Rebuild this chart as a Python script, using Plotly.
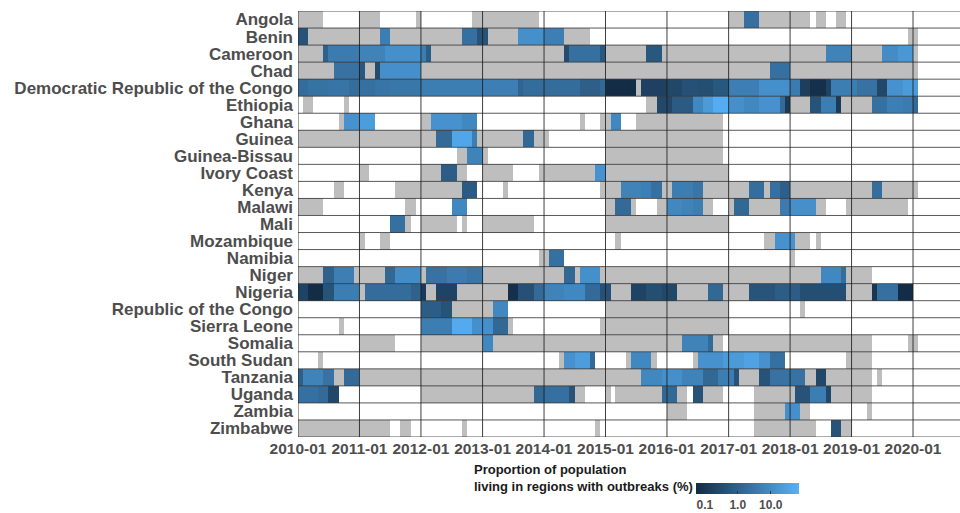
import numpy as np
import pandas as pd
import plotly.graph_objects as go

# ---------------- data ----------------
COUNTRIES = ["Angola", "Benin", "Cameroon", "Chad", "Democratic Republic of the Congo",
             "Ethiopia", "Ghana", "Guinea", "Guinea-Bissau", "Ivory Coast", "Kenya",
             "Malawi", "Mali", "Mozambique", "Namibia", "Niger", "Nigeria",
             "Republic of the Congo", "Sierra Leone", "Somalia", "South Sudan",
             "Tanzania", "Uganda", "Zambia", "Zimbabwe"]

START_MONTH = "2010-01-01"
N_MONTHS = 121
YEAR_TICKS = ["2010-01", "2011-01", "2012-01", "2013-01", "2014-01", "2015-01",
              "2016-01", "2017-01", "2018-01", "2019-01", "2020-01"]
CBAR_TICKS = [0.1, 1.0, 10.0]
CBAR_LABELS = ["0.1", "1.0", "10.0"]
LEGEND_TITLE = ["Proportion of population", "living in regions with outbreaks (%)"]

# segments: (first month, last month, proportion %), months counted from 2010-01 (=0)
# proportion 0 = reporting but no outbreak (grey); months not listed = no data (white)
ANGOLA = [(0, 4, 0), (12, 15, 0), (23, 23, 0), (34, 46, 0), (84, 86, 0), (87, 89, 2.2),
          (90, 99, 0), (101, 102, 0), (105, 106, 0)]
BENIN = [(0, 1, 0.45), (2, 15, 0), (16, 17, 4.5), (18, 31, 0), (32, 34, 2.2), (35, 36, 0.45),
         (37, 42, 0), (43, 47, 12), (48, 51, 5), (52, 56, 0), (119, 120, 0)]
CAMEROON = [(0, 4, 0), (5, 5, 1.0), (6, 11, 4), (12, 16, 6), (17, 23, 12), (24, 24, 4.5),
            (25, 25, 0.8), (26, 51, 0), (52, 52, 0.3), (53, 58, 2.2), (59, 59, 0.6),
            (60, 67, 0), (68, 70, 0.6), (71, 102, 0), (103, 107, 6), (108, 113, 0),
            (114, 116, 10), (117, 119, 18), (120, 120, 0)]
CHAD = [(0, 6, 0), (7, 11, 2.5), (12, 12, 0.6), (13, 14, 0), (15, 15, 0.3), (16, 23, 12),
        (24, 91, 0), (92, 95, 2.2), (96, 120, 0)]
DRC = [(0, 1, 1.8), (2, 5, 2.4), (6, 9, 2.8), (10, 11, 2.0), (12, 14, 2.2), (15, 17, 2.8),
       (18, 23, 3.2), (24, 35, 4.5), (36, 42, 5), (43, 43, 1.2), (44, 54, 1.8),
       (55, 58, 0.9), (59, 59, 1.4), (60, 65, 0.06), (66, 66, 0), (67, 71, 0.18),
       (72, 74, 0.25), (75, 77, 0.4), (78, 80, 0.35), (81, 83, 0.6), (84, 89, 5),
       (90, 95, 12), (96, 97, 4), (98, 99, 0.15), (100, 102, 0.07), (103, 103, 0.2),
       (104, 108, 4.5), (109, 112, 2.5), (113, 114, 0.25), (115, 117, 14), (118, 120, 22)]
ETHIOPIA = [(1, 2, 0), (9, 9, 0), (68, 69, 0), (70, 72, 0.25), (73, 76, 0.7), (77, 78, 8),
            (79, 80, 22), (81, 83, 60), (84, 86, 12), (87, 89, 8), (90, 93, 14),
            (94, 94, 1.6), (95, 95, 0.12), (96, 99, 0), (100, 101, 0.45), (102, 104, 4.5),
            (105, 105, 0.12), (106, 111, 0), (112, 114, 2.2), (115, 117, 5), (118, 119, 4),
            (120, 120, 1.6)]
GHANA = [(8, 8, 0), (9, 11, 14), (12, 14, 25), (24, 25, 0), (26, 31, 14), (32, 34, 8),
         (55, 55, 0), (59, 60, 0), (61, 62, 8), (66, 82, 0)]
GUINEA = [(0, 26, 0), (27, 29, 1.6), (30, 33, 40), (34, 34, 4.5), (35, 43, 0), (44, 45, 1.4),
          (46, 48, 0), (60, 82, 0)]
GUINEA_BISSAU = [(31, 32, 0), (33, 35, 6), (36, 36, 0), (60, 82, 0)]
IVORY_COAST = [(12, 13, 0), (24, 27, 0), (28, 30, 0.8), (31, 32, 0), (36, 41, 0),
               (47, 57, 0), (58, 59, 14), (60, 83, 0)]
KENYA = [(7, 8, 0), (19, 31, 0), (32, 34, 0.7), (40, 40, 0), (59, 62, 0), (63, 66, 6),
         (67, 68, 5), (69, 70, 2.2), (71, 72, 0), (73, 76, 4.5), (77, 78, 3), (79, 87, 0),
         (88, 90, 2), (91, 91, 0), (92, 93, 2.2), (94, 95, 0.9), (96, 111, 0),
         (112, 113, 2), (114, 120, 0)]
MALAWI = [(0, 4, 0), (21, 22, 0), (30, 32, 8), (60, 61, 0), (62, 64, 1.6), (65, 65, 0),
          (70, 71, 0), (72, 74, 8), (75, 76, 6), (77, 78, 4.5), (79, 80, 0), (84, 84, 0),
          (85, 87, 1.4), (88, 93, 0), (94, 95, 4), (96, 100, 12), (101, 102, 0),
          (107, 118, 0)]
MALI = [(18, 20, 2.2), (21, 21, 0), (24, 30, 0), (32, 32, 0), (36, 45, 0), (60, 83, 0)]
MOZAMBIQUE = [(12, 12, 0), (16, 17, 0), (62, 62, 0), (91, 92, 0), (93, 96, 14),
              (97, 99, 0), (101, 101, 0)]
NAMIBIA = [(47, 48, 0), (49, 51, 2.2), (96, 96, 0)]
NIGER = [(0, 4, 0), (5, 6, 1.0), (7, 10, 5), (11, 16, 0), (17, 18, 1.4), (19, 23, 10),
         (24, 24, 0), (25, 28, 2.5), (29, 32, 4), (33, 35, 3), (36, 51, 0), (52, 53, 1.4),
         (54, 54, 0), (55, 58, 12), (59, 101, 0), (102, 105, 8), (106, 106, 2), (107, 111, 0)]
NIGERIA = [(0, 1, 0.2), (2, 4, 0.06), (5, 6, 0.45), (7, 11, 4.5), (12, 12, 0), (13, 21, 1.8),
           (22, 23, 1.0), (24, 24, 0.12), (25, 26, 0), (27, 30, 0.2), (31, 40, 0),
           (41, 42, 0.07), (43, 45, 0.4), (46, 47, 1.6), (48, 51, 6), (52, 55, 8),
           (56, 58, 1.6), (59, 60, 0.4), (61, 64, 0), (65, 67, 0.2), (68, 70, 0.35),
           (71, 73, 0.25), (74, 79, 0), (80, 82, 1.4), (83, 87, 0), (88, 92, 0.5),
           (93, 97, 0.8), (98, 106, 0.35), (107, 111, 0), (112, 112, 0.1), (113, 116, 2.2),
           (117, 119, 0.06)]
REP_CONGO = [(24, 27, 0.8), (28, 29, 0.45), (30, 37, 0), (38, 40, 8), (60, 83, 0), (98, 98, 0)]
SIERRA_LEONE = [(8, 8, 0), (24, 29, 4.5), (30, 33, 50), (34, 37, 12), (38, 40, 1.4),
                (41, 41, 0), (59, 83, 0)]
SOMALIA = [(12, 18, 0), (24, 35, 0), (36, 37, 8), (38, 74, 0), (75, 79, 6), (80, 80, 1.6),
           (81, 82, 0), (84, 111, 0), (119, 120, 0)]
SOUTH_SUDAN = [(4, 4, 0), (51, 51, 0), (52, 53, 14), (54, 56, 25), (57, 57, 1.6), (64, 64, 0),
               (65, 68, 8), (69, 69, 0), (77, 77, 0), (78, 82, 14), (83, 86, 22),
               (87, 89, 35), (90, 91, 14), (92, 94, 2.2), (107, 111, 0)]
TANZANIA = [(0, 0, 0.9), (1, 4, 6), (5, 6, 2.5), (7, 8, 0), (9, 11, 1.6), (12, 66, 0),
            (67, 70, 8), (71, 74, 12), (75, 78, 6), (79, 81, 1.4), (82, 84, 4.5),
            (85, 85, 0.5), (86, 89, 0), (90, 91, 0.45), (92, 98, 2.5), (99, 100, 0),
            (101, 102, 0.25), (103, 111, 0), (113, 113, 0)]
UGANDA = [(0, 3, 2.2), (4, 5, 1.6), (6, 7, 0.25), (24, 45, 0), (46, 47, 1.4), (48, 52, 2.2),
          (53, 53, 0.45), (54, 55, 0), (60, 60, 0), (62, 70, 0), (71, 73, 1.4), (74, 75, 0),
          (77, 78, 0.45), (79, 82, 0), (89, 96, 0), (97, 99, 0.45), (100, 102, 4.5),
          (103, 103, 0.25), (104, 111, 0)]
ZAMBIA = [(72, 75, 0), (89, 94, 0), (95, 97, 12), (98, 99, 0), (111, 111, 0)]
ZIMBABWE = [(0, 17, 0), (20, 21, 0), (32, 32, 0), (58, 58, 0), (89, 100, 0),
            (104, 105, 0.45), (106, 107, 0)]

ROWS = [ANGOLA, BENIN, CAMEROON, CHAD, DRC, ETHIOPIA, GHANA, GUINEA, GUINEA_BISSAU,
        IVORY_COAST, KENYA, MALAWI, MALI, MOZAMBIQUE, NAMIBIA, NIGER, NIGERIA, REP_CONGO,
        SIERRA_LEONE, SOMALIA, SOUTH_SUDAN, TANZANIA, UGANDA, ZAMBIA, ZIMBABWE]

# ---------------- build grids ----------------
n_rows = len(COUNTRIES)
grey = np.full((n_rows, N_MONTHS), np.nan)
blue = np.full((n_rows, N_MONTHS), np.nan)
for r, segs in enumerate(ROWS):
    for a, b, v in segs:
        for m in range(a, b + 1):
            if v == 0:
                grey[r, m] = 1.0
            else:
                blue[r, m] = np.log10(v)

x_edges = pd.date_range(START_MONTH, periods=N_MONTHS + 1, freq="MS").strftime("%Y-%m-%d").tolist()
y_edges = (np.arange(n_rows + 1) - 0.5).tolist()

FONT = "Liberation Sans, Arial, Helvetica, sans-serif"
LOG_MIN, LOG_MAX = -1.27, 1.86

fig = go.Figure()
fig.add_trace(go.Heatmap(
    x=x_edges, y=y_edges, z=grey, zmin=0, zmax=1,
    colorscale=[[0, "#BEBEBE"], [1, "#BEBEBE"]], showscale=False,
    hoverongaps=False))
fig.add_trace(go.Heatmap(
    x=x_edges, y=y_edges, z=blue, zmin=LOG_MIN, zmax=LOG_MAX,
    colorscale=[[0, "#132B43"], [1, "#56B1F7"]], hoverongaps=False,
    colorbar=dict(
        orientation="h", xanchor="left", x=(696 - 298) / 662,
        yanchor="top", y=-(483 - 437) / 426,
        len=103, lenmode="pixels", thickness=11, outlinewidth=0,
        xpad=0, ypad=0,
        tickvals=np.log10(CBAR_TICKS).tolist(), ticktext=CBAR_LABELS,
        ticks="inside", ticklen=3, tickcolor="#333333",
        tickfont=dict(family=FONT, size=12, color="#4D4D4D", weight="bold"),
    )))

# grid lines at row boundaries and year starts
for yb in y_edges:
    fig.add_shape(type="line", xref="paper", x0=0, x1=1, yref="y", y0=yb, y1=yb,
                  line=dict(color="rgba(60,60,60,0.85)", width=1), layer="above")
for yt in YEAR_TICKS:
    fig.add_shape(type="line", xref="x", x0=yt + "-01", x1=yt + "-01", yref="paper", y0=0, y1=1,
                  line=dict(color="rgba(30,30,30,0.85)", width=1), layer="above")

# legend title (two lines, left of the colour bar)
for i, line_text in enumerate(LEGEND_TITLE):
    fig.add_annotation(
        text=line_text, xref="paper", yref="paper",
        x=(472 - 298) / 662, y=-(469 + 17 * i - 437) / 426,
        xanchor="left", yanchor="middle", align="left", showarrow=False,
        font=dict(family=FONT, size=13, color="#1A1A1A", weight="bold"))

fig.update_xaxes(
    type="date", range=["2010-01-01", "2020-10-06"],
    tickvals=[t + "-01" for t in YEAR_TICKS], ticktext=YEAR_TICKS,
    showgrid=False, zeroline=False, showline=False, ticks="",
    tickfont=dict(family=FONT, size=15.5, color="#4D4D4D", weight="bold"))
fig.update_yaxes(
    range=[n_rows - 0.5, -0.5], tickvals=list(range(n_rows)), ticktext=COUNTRIES,
    showgrid=False, zeroline=False, showline=False, ticks="", ticklabelstandoff=4,
    tickfont=dict(family=FONT, size=17, color="#4D4D4D", weight="bold"))

fig.update_layout(
    width=960, height=513, margin=dict(l=298, r=0, t=11, b=76, autoexpand=False),
    plot_bgcolor="white", paper_bgcolor="white", showlegend=False)

fig.write_html("out.html", config={"displayModeBar": False},
               post_script="document.body.style.margin='0';")
